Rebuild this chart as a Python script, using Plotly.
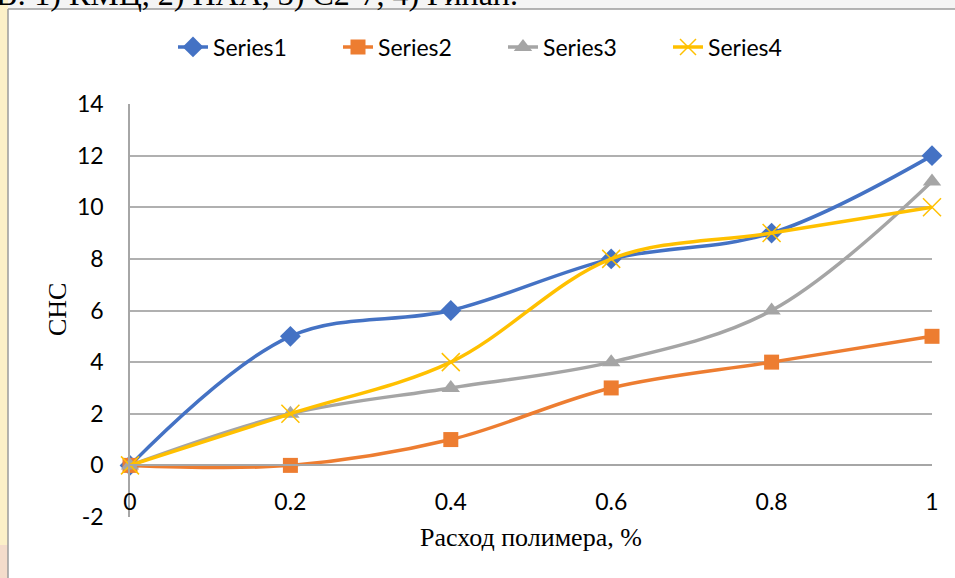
import plotly.graph_objects as go

x_vals = [0, 0.2, 0.4, 0.6, 0.8, 1]
series1 = [0, 5, 6, 8, 9, 12]
series2 = [0, 0, 1, 3, 4, 5]
series3 = [0, 2, 3, 4, 6, 11]
series4 = [0, 2, 4, 8, 9, 10]
names = ["Series1", "Series2", "Series3", "Series4"]
y_ticks = [-2, 0, 2, 4, 6, 8, 10, 12, 14]
y_tick_text = ["-2", "0", "2", "4", "6", "8", "10", "12", "14"]
x_ticks = [0, 0.2, 0.4, 0.6, 0.8, 1]
x_tick_text = ["0", "0.2", "0.4", "0.6", "0.8", "1"]
x_title = "Расход полимера, %"
y_title = "СНС"
cut_text = "В: 1) КМЦ, 2) ПАА, 3) С2-7, 4) Гипан."

W, H = 955, 578
L, R, T, B = 130, 932, 104, 517

def px(x):
    return (x - L) / (R - L)

def py(y):
    return (B - y) / (B - T)

colors = ["#4472C4", "#ED7D31", "#A5A5A5", "#FFC000"]
symbols = ["diamond", "square", "triangle-up", "x-thin-open"]
sizes = [16, 15, 16, 18]

fig = go.Figure()
for name, ys, c, s, sz in zip(names, [series1, series2, series3, series4], colors, symbols, sizes):
    marker = dict(symbol=s, size=sz, color=c)
    if s == "x-thin-open":
        marker["line"] = dict(color=c, width=1.5)
    fig.add_trace(go.Scatter(
        x=x_vals, y=ys, name=name, mode="lines+markers",
        line=dict(color=c, width=3.5, shape="spline", smoothing=1),
        marker=marker, cliponaxis=False,
    ))

shapes = [
    dict(type="rect", xref="paper", yref="paper", x0=px(0), x1=px(W + 5), y0=py(9), y1=py(-5),
         fillcolor="#F4F4F4", line=dict(width=0), layer="below"),
    dict(type="rect", xref="paper", yref="paper", x0=px(-5), x1=px(8), y0=py(H + 5), y1=py(-5),
         fillcolor="#FCF0C8", line=dict(width=0), layer="below"),
    dict(type="rect", xref="paper", yref="paper", x0=px(-5), x1=px(8), y0=py(H + 5), y1=py(545),
         fillcolor="#F4DCCB", line=dict(width=0), layer="below"),
    dict(type="line", xref="paper", yref="paper", x0=px(8), x1=px(8), y0=py(9), y1=py(H + 5),
         line=dict(color="#9B9B9B", width=1.5)),
    dict(type="line", xref="paper", yref="paper", x0=px(8), x1=px(W + 5), y0=py(9), y1=py(9),
         line=dict(color="#9B9B9B", width=1.5)),
]

annotations = [
    dict(text=cut_text, xref="paper", yref="paper", x=px(-6), y=py(-6), xanchor="left",
         yanchor="middle", showarrow=False,
         font=dict(family="Liberation Serif", size=32, color="#000000")),
    dict(text=x_title, xref="paper", yref="paper", x=px(531), y=py(537), xanchor="center",
         yanchor="middle", showarrow=False,
         font=dict(family="Liberation Serif", size=26, color="#000000")),
    dict(text=y_title, xref="paper", yref="paper", x=px(57), y=py(310), xanchor="center",
         yanchor="middle", showarrow=False, textangle=-90,
         font=dict(family="Liberation Serif", size=26, color="#000000")),
]

fig.update_layout(
    width=W, height=H,
    margin=dict(l=L, r=W - R, t=T, b=H - B, pad=0),
    paper_bgcolor="white", plot_bgcolor="white",
    font=dict(family="Lato", size=23, color="#000000"),
    showlegend=True,
    legend=dict(orientation="h", x=px(503), xanchor="center", y=py(47), yanchor="middle",
                font=dict(family="Lato", size=23, color="#000000"),
                entrywidth=120, entrywidthmode="pixels",
                bgcolor="rgba(0,0,0,0)", traceorder="normal"),
    xaxis=dict(range=[0, 1], tickvals=x_ticks, ticktext=x_tick_text,
               showgrid=False, zeroline=False, showline=True, linecolor="#A6A6A6", linewidth=1.5,
               anchor="free", position=py(465),
               ticks="outside", ticklen=17, tickcolor="rgba(0,0,0,0)",
               tickfont=dict(family="Lato", size=23, color="#000000")),
    yaxis=dict(range=[-2, 14], tickvals=y_ticks, ticktext=y_tick_text,
               showgrid=True, gridcolor="#B0B0B0", gridwidth=1.5,
               zeroline=False, showline=True, linecolor="#A6A6A6", linewidth=1.5,
               ticks="outside", ticklen=20, tickcolor="rgba(0,0,0,0)",
               tickfont=dict(family="Lato", size=23, color="#000000")),
    shapes=shapes,
    annotations=annotations,
)

fig.write_html("out.html", config={"displayModeBar": False},
               post_script="document.body.style.margin='0';document.body.style.overflow='hidden';")
